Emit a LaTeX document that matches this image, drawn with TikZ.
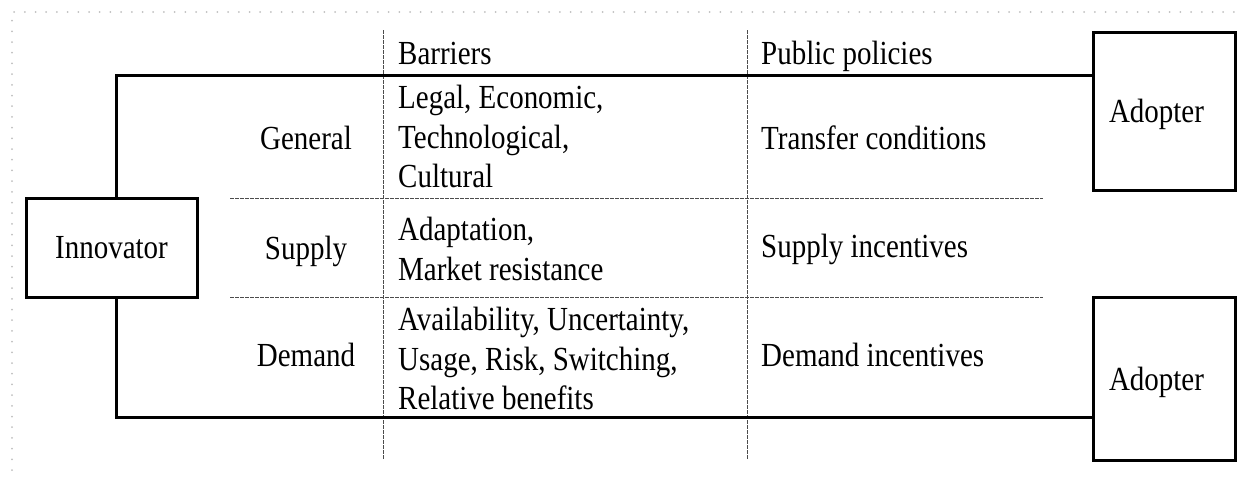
\documentclass[tikz,border=0pt]{standalone}
\usepackage{fontspec}
\setmainfont{Liberation Serif}[FakeStretch=0.86]
\begin{document}
\begin{tikzpicture}[x=1pt,y=-1pt,
    every node/.style={font=\fontsize{33.7}{39.5}\selectfont, inner sep=0pt},
    box/.style={draw, line width=3pt, inner sep=3pt},
    link/.style={line width=3pt},
    grid/.style={line width=1pt, black!70, dash pattern=on 3.5pt off 1.5pt},
    cell/.style={anchor=north west, align=left}]
    \useasboundingbox (0,0) rectangle (1248,479);

    %Frame
    \draw[gray!50, line width=2pt, line cap=round, dash pattern=on 0pt off 10.7pt]
        (12,470) -- (12,12) -- (1240,12);

    %Grid
    \draw[grid] (383,30) -- (383,460);
    \draw[grid] (747,30) -- (747,460);
    \draw[grid] (230,198) -- (1043,198);
    \draw[grid] (230,297) -- (1043,297);

    %Nodes
    \node[box, minimum width=171pt, minimum height=99pt] at (111.5,247.5) (inn) {Innovator};
    \node[box, minimum width=142pt, minimum height=158pt, text width=110pt, align=left,
        text height=30pt, text depth=7pt] at (1164,111) (adt) {Adopter};
    \node[box, minimum width=142pt, minimum height=163pt, text width=110pt, align=left,
        text height=30pt, text depth=7pt] at (1164,378.5) (adb) {Adopter};

    \node[anchor=base west] at (398,64) (bar) {Barriers};
    \node[anchor=base west] at (761,64) (pol) {Public policies};

    \node[anchor=base] at (306,149) (gen) {General};
    \node[anchor=base] at (306,259) (sup) {Supply};
    \node[anchor=base] at (306,366) (dem) {Demand};

    \node[cell] at (398,85) (bgen) {Legal, Economic,\\Technological,\\Cultural};
    \node[cell] at (398,217) (bsup) {Adaptation,\\Market resistance};
    \node[cell] at (398,307) (bdem) {Availability, Uncertainty,\\Usage, Risk, Switching,\\Relative benefits};

    \node[anchor=base west] at (761,149) (pgen) {Transfer conditions};
    \node[anchor=base west] at (761,257) (psup) {Supply incentives};
    \node[anchor=base west] at (761,366) (pdem) {Demand incentives};

    %Lines
    \draw[link] ([xshift=4.5pt]inn.north) |- ([yshift=36pt]adt.west);
    \draw[link] ([xshift=4.5pt]inn.south) |- ([yshift=-38.5pt]adb.west);
\end{tikzpicture}
\end{document}
